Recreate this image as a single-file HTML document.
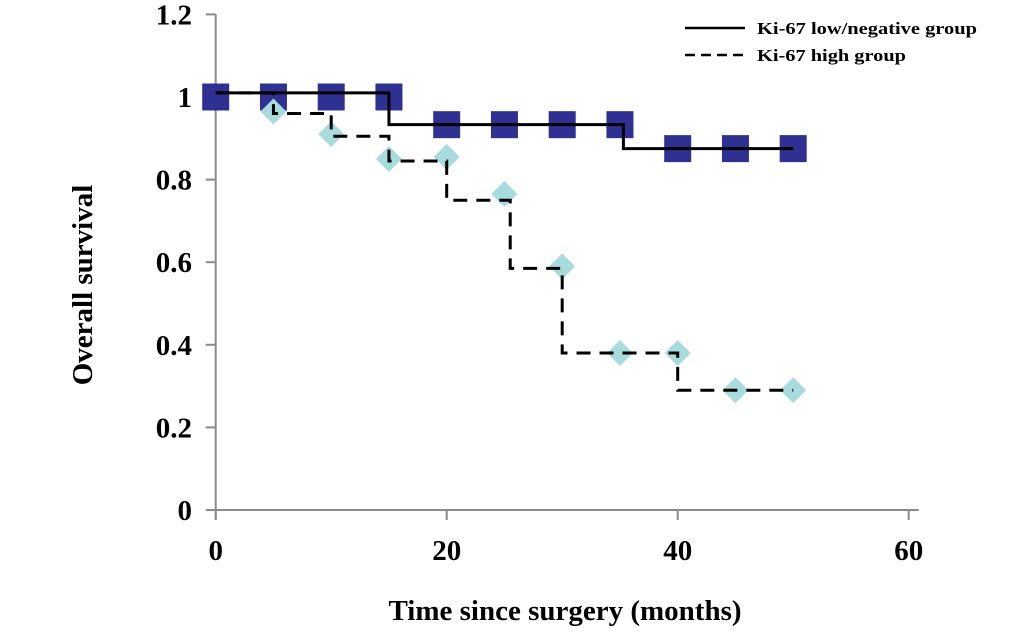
<!DOCTYPE html>
<html><head><meta charset="utf-8"><style>
body{margin:0;background:#fff}
svg{display:block;font-family:"Liberation Serif",serif;font-weight:bold}
</style></head><body>
<svg id="chart" width="1033" height="642" viewBox="0 0 1033 642" xmlns="http://www.w3.org/2000/svg"></svg>
<script>
const xTicks=[0,20,40,60];
const yTicks=[0,0.2,0.4,0.6,0.8,1,1.2];
const yTickLabels=["0","0.2","0.4","0.6","0.8","1","1.2"];
const lowTimes=[0,5,10,15,20,25,30,35,40,45,50];
const lowVals=[1,1,1,1,0.933,0.933,0.933,0.933,0.875,0.875,0.875];
const lowStepTimes=[0,15,35.3,50];
const lowStepVals=[1.01,0.933,0.875,0.875];
const highTimes=[5,10,15,20,25,30,35,40,45,50];
const highVals=[0.965,0.91,0.85,0.855,0.765,0.59,0.38,0.38,0.29,0.29];
const highStepTimes=[0,5,10,15,20,25.5,30,40,50];
const highStepVals=[1.01,0.96,0.905,0.845,0.75,0.585,0.38,0.29,0.29];
const NS="http://www.w3.org/2000/svg";
const svg=document.getElementById('chart');
const X=t=>215.7+t*(231/20);
const Y=v=>510-v*413;
function el(tag,attrs,parent){const e=document.createElementNS(NS,tag);for(const k in attrs)e.setAttribute(k,attrs[k]);(parent||svg).appendChild(e);return e;}
let a=el('line',{x1:X(0),y1:Y(0),x2:X(60)+10,y2:Y(0),stroke:'#8a8a8a','stroke-width':2});


a=el('line',{x1:X(0),y1:Y(1.2),x2:X(0),y2:Y(0)+10,stroke:'#8a8a8a','stroke-width':2});


xTicks.forEach(t=>{
  el('line',{x1:X(t),y1:Y(0),x2:X(t),y2:Y(0)+10,stroke:'#8a8a8a','stroke-width':2});
  const tx=el('text',{x:X(t),y:Y(0)+50,'text-anchor':'middle','font-size':29});
  tx.textContent=t;
  
  
});
yTicks.forEach((v,i)=>{
  el('line',{x1:X(0)-10,y1:Y(v),x2:X(0),y2:Y(v),stroke:'#8a8a8a','stroke-width':2});
  const tx=el('text',{x:192,y:Y(v)+10,'text-anchor':'end','font-size':29});
  tx.textContent=yTickLabels[i];
  
  
});
lowTimes.forEach((t,i)=>{
  const r=el('rect',{x:X(t)-13.5,y:Y(lowVals[i])-13.5,width:27,height:27,fill:'#2e3192'});
  
  
});
highTimes.forEach((t,i)=>{
  const cx=X(t),cy=Y(highVals[i]);
  const p=el('polygon',{points:`${cx},${cy-13} ${cx+13},${cy} ${cx},${cy+13} ${cx-13},${cy}`,fill:'#a8dcdc'});
  
  
});
function stepPath(ts,vs){let d=`M${X(ts[0])},${Y(vs[0])}`;for(let i=1;i<ts.length;i++){d+=` L${X(ts[i])},${Y(vs[i-1])} L${X(ts[i])},${Y(vs[i])}`;}return d;}
let p=el('path',{d:stepPath(highStepTimes,highStepVals),fill:'none',stroke:'#000','stroke-width':3,'stroke-dasharray':'14,9'});


p=el('path',{d:stepPath(lowStepTimes,lowStepVals),fill:'none',stroke:'#000','stroke-width':3});


el('line',{x1:685,y1:28,x2:745,y2:28,stroke:'#000','stroke-width':2.5});
let t=el('text',{x:757,y:34,'font-size':17,textLength:220,lengthAdjust:'spacingAndGlyphs'});t.textContent='Ki-67 low/negative group';


el('line',{x1:685,y1:55,x2:745,y2:55,stroke:'#000','stroke-width':2.5,'stroke-dasharray':'10,6'});
t=el('text',{x:757,y:61,'font-size':17,textLength:149,lengthAdjust:'spacingAndGlyphs'});t.textContent='Ki-67 high group';


t=el('text',{x:565,y:620,'text-anchor':'middle','font-size':29});t.textContent='Time since surgery (months)';


t=el('text',{x:0,y:0,'text-anchor':'middle','font-size':29,transform:'translate(92,285) rotate(-90)'});t.textContent='Overall survival';


</script>
</body></html>
